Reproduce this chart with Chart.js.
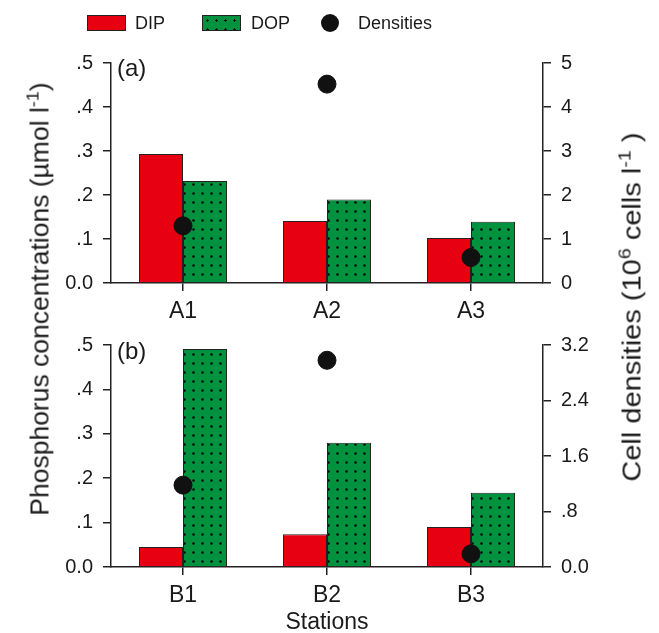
<!DOCTYPE html>
<html>
<head>
<meta charset="utf-8">
<script src="https://cdn.jsdelivr.net/npm/chart.js@4.4.1/dist/chart.umd.min.js"></script>
<style>
  body { margin: 0; background: #fff; }
  #wrap { position: relative; width: 659px; height: 633px; overflow: hidden; font-family: "Liberation Sans", Arial, sans-serif; color: #1a1a1a; }
  canvas { position: absolute; left: 0; }
  .t { position: absolute; white-space: nowrap; line-height: 1; }
  .box { position: absolute; width: 39px; height: 16px; box-sizing: border-box; border: 1px solid #222; }
  .dop { background-color: #00923f; background-image: radial-gradient(circle, #000 0.9px, transparent 1.4px); background-size: 9px 9px; }
  .rot { font-size: 25px; }
  sup { font-size: 68%; vertical-align: 0; position: relative; top: -0.6em; }
</style>
</head>
<body>
<div id="wrap">
  <canvas id="chartA" width="659" height="330" style="top:0"></canvas>
  <canvas id="chartB" width="659" height="313" style="top:323px"></canvas>

  <div class="box" style="left:87px;top:15px;background:#e60012"></div>
  <div class="t" style="left:135px;top:14px;font-size:18px">DIP</div>
  <div class="box dop" style="left:202px;top:15px"></div>
  <div class="t" style="left:251px;top:14px;font-size:18px">DOP</div>
  <div style="position:absolute;left:321px;top:14px;width:18px;height:18px;border-radius:50%;background:#111"></div>
  <div class="t" style="left:358px;top:14px;font-size:18px">Densities</div>

  <div class="t" style="left:117px;top:56px;font-size:24px">(a)</div>
  <div class="t" style="left:117px;top:339px;font-size:24px">(b)</div>

  <div class="t rot" style="left:40px;top:299px;transform:translate(-50%,-50%) rotate(-90deg) scaleX(1.06)">Phosphorus concentrations (µmol l<sup>-1</sup>)</div>
  <div class="t rot" style="left:632px;top:307px;transform:translate(-50%,-50%) rotate(-90deg) scaleX(1.16)">Cell densities (10<sup>6</sup> cells l<sup>-1</sup> )</div>
</div>
<script>
// panel (a)
const stationsA = ['A1', 'A2', 'A3'];
const dipA = [0.293, 0.141, 0.102];
const dopA = [0.232, 0.190, 0.139];
const densA = [1.30, 4.52, 0.58];

// panel (b)
const stationsB = ['B1', 'B2', 'B3'];
const dipB = [0.045, 0.074, 0.090];
const dopB = [0.491, 0.280, 0.167];
const densB = [1.18, 2.98, 0.19];

const concTicks = [0, 0.1, 0.2, 0.3, 0.4, 0.5];
const densTicksA = [0, 1, 2, 3, 4, 5];
const densTicksB = [0, 0.8, 1.6, 2.4, 3.2];

const axisColor = '#222';
const textColor = '#1a1a1a';
const fontFamily = '"Liberation Sans", Arial, sans-serif';

const dotPattern = (ctx) => {
    const c = document.createElement('canvas');
    c.width = 9; c.height = 9;
    const g = c.getContext('2d');
    g.fillStyle = '#00923f';
    g.fillRect(0, 0, 9, 9);
    g.fillStyle = '#000';
    g.beginPath();
    g.arc(4.5, 4.5, 1.2, 0, Math.PI * 2);
    g.fill();
    return ctx.createPattern(c, 'repeat');
}

const fmtConc = v => v === 0 ? '0.0' : '.' + Math.round(v * 10);
const fmtDensA = v => String(v);
const fmtDensB = v => v === 0 ? '0.0' : (v < 1 ? '.' + Math.round(v * 10) : v.toFixed(1));

const makePanel = (id, labels, dip, dop, dens, densTicks, fmtDens, padTop, xHeight, showTitle) => {
    const canvas = document.getElementById(id);
    const ctx = canvas.getContext('2d');
    const yBase = {
        min: 0,
        grid: { display: true, drawOnChartArea: false, drawTicks: true, tickLength: 8, color: axisColor, lineWidth: 1.5 },
        border: { display: true, color: axisColor, width: 1.5 },
        ticks: { color: textColor, font: { family: fontFamily, size: 20 }, padding: 10 }
    };
    return new Chart(ctx, {
        type: 'bar',
        data: {
            labels: labels,
            datasets: [{
                type: 'line',
                label: 'Densities',
                data: dens,
                yAxisID: 'y1',
                showLine: false,
                pointRadius: 9,
                pointBackgroundColor: '#111',
                pointBorderColor: '#111',
                order: 0
            }, {
                label: 'DIP',
                data: dip,
                yAxisID: 'y',
                backgroundColor: '#e60012',
                borderColor: axisColor,
                borderWidth: 1,
                order: 1
            }, {
                label: 'DOP',
                data: dop,
                yAxisID: 'y',
                backgroundColor: dotPattern(ctx),
                borderColor: axisColor,
                borderWidth: 1,
                order: 1
            }]
        },
        options: {
            responsive: false,
            animation: false,
            devicePixelRatio: 1,
            categoryPercentage: 0.611,
            barPercentage: 1,
            layout: { padding: { top: padTop, left: 0, right: 0, bottom: 0 } },
            plugins: { legend: { display: false }, tooltip: { enabled: false } },
            scales: {
                x: {
                    grid: { display: true, offset: false, drawOnChartArea: false, drawTicks: true, tickLength: 8, color: axisColor, lineWidth: 1.5 },
                    border: { display: true, color: axisColor, width: 1.5 },
                    ticks: { color: textColor, font: { family: fontFamily, size: 23 }, padding: 7 },
                    title: { display: showTitle, text: 'Stations', color: textColor, font: { family: fontFamily, size: 23 }, padding: { top: 0, bottom: 0 } },
                    afterFit: s => { s.height = xHeight; }
                },
                y: Object.assign({}, yBase, {
                    position: 'left',
                    max: 0.5,
                    ticks: Object.assign({}, yBase.ticks, { callback: v => fmtConc(v) }),
                    afterBuildTicks: s => { s.ticks = concTicks.map(v => ({ value: v })); },
                    afterFit: s => { s.width = 111; }
                }),
                y1: Object.assign({}, yBase, {
                    position: 'right',
                    max: densTicks[densTicks.length - 1],
                    ticks: Object.assign({}, yBase.ticks, { callback: v => fmtDens(v) }),
                    afterBuildTicks: s => { s.ticks = densTicks.map(v => ({ value: v })); },
                    afterFit: s => { s.width = 116; }
                })
            }
        }
    });
}

makePanel('chartA', stationsA, dipA, dopA, densA, densTicksA, fmtDensA, 63, 47, false);
makePanel('chartB', stationsB, dipB, dopB, densB, densTicksB, fmtDensB, 22, 69, true);
</script>
</body>
</html>
